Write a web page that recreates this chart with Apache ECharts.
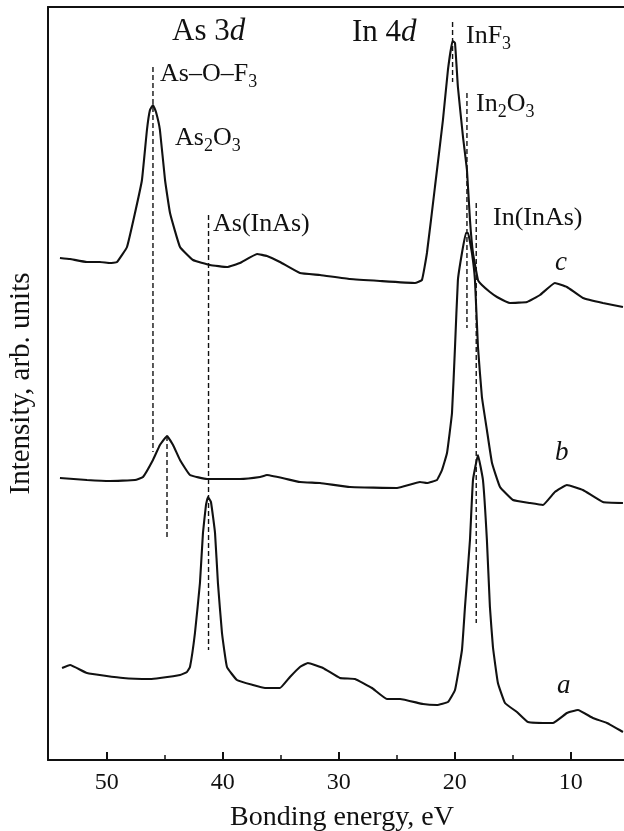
<!DOCTYPE html>
<html>
<head>
<meta charset="utf-8">
<title>As 3d / In 4d spectra</title>
<script src="https://cdn.jsdelivr.net/npm/echarts@6.0.0/dist/echarts.min.js"></script>
<style>
  html, body { margin: 0; padding: 0; background: #fff; }
  #chart { width: 624px; height: 831px; }
</style>
</head>
<body>
<div id="chart"></div>
<script>
// spectra: [bonding energy, eV ; intensity, arb. units]
const spectrumC = [
  [54.03, 502], [53.16, 501], [51.70, 498], [50.58, 498], [49.72, 497], [49.11, 498],
  [48.25, 513], [47.56, 547], [46.96, 580], [46.53, 630], [46.27, 650], [46.01, 655],
  [45.75, 648], [45.41, 630], [44.97, 580], [44.54, 547], [43.68, 513], [42.56, 500],
  [41.09, 495], [39.63, 493], [38.51, 497], [37.04, 506], [36.18, 504], [35.06, 498],
  [33.34, 487], [31.61, 485], [29.03, 481], [26.44, 479], [23.42, 477], [22.82, 480],
  [22.39, 507], [21.70, 573], [21.01, 640], [20.58, 690], [20.18, 719], [19.97, 717],
  [19.72, 673], [19.28, 623], [18.94, 590], [18.68, 540], [18.42, 507], [17.99, 480],
  [17.65, 475], [16.96, 468], [16.35, 463], [15.23, 457], [13.76, 458], [12.64, 465],
  [11.36, 477], [10.32, 473], [8.94, 462], [7.22, 457], [5.49, 453]
];
const spectrumB = [
  [54.03, 282], [51.70, 280], [49.72, 279], [47.56, 280], [46.87, 283], [46.01, 300],
  [45.41, 315], [44.80, 324], [44.28, 315], [43.68, 300], [42.82, 285], [41.35, 281],
  [39.97, 281], [38.51, 281], [36.78, 283], [36.18, 285], [33.34, 278], [31.61, 277],
  [29.03, 273], [24.97, 272], [22.99, 278], [22.39, 277], [21.53, 280], [21.09, 290],
  [20.66, 307], [20.23, 347], [19.97, 413], [19.72, 480], [19.37, 507], [19.03, 527],
  [18.85, 527], [18.51, 507], [18.25, 480], [17.99, 413], [17.65, 363], [17.22, 330],
  [16.78, 297], [16.09, 273], [14.97, 260], [13.51, 257], [12.39, 255], [11.36, 268],
  [10.32, 275], [8.94, 270], [7.22, 258], [5.49, 257]
];
const spectrumA = [
  [53.85, 92], [53.16, 95], [51.70, 87], [48.59, 82], [46.27, 81], [45.41, 82],
  [43.68, 85], [43.08, 88], [42.82, 93], [42.39, 127], [41.96, 177], [41.70, 227],
  [41.44, 255], [41.27, 263], [41.01, 258], [40.66, 227], [40.41, 177], [40.06, 127],
  [39.63, 93], [38.77, 80], [37.39, 75], [36.35, 72], [35.06, 72], [34.20, 83],
  [33.34, 93], [32.65, 97], [31.35, 92], [29.89, 82], [28.59, 81], [27.13, 72],
  [25.84, 61], [24.71, 61], [22.73, 56], [21.53, 55], [20.58, 58], [19.97, 70],
  [19.37, 110], [19.11, 153], [18.68, 220], [18.42, 280], [17.99, 305], [17.56, 280],
  [17.22, 220], [16.96, 153], [16.70, 113], [16.27, 77], [15.66, 57], [14.63, 48],
  [13.68, 38], [11.53, 37], [10.32, 47], [9.37, 50], [8.08, 42], [6.87, 37], [5.49, 28]
];

// dashed reference lines: [energy, upper end, lower end]
const refLines = [
  [46.01, 693, 308],   // As-O-F3
  [44.80, 324, 223],   // As2O3
  [41.22, 545, 110],   // As(InAs)
  [20.18, 738, 678],   // InF3
  [18.94, 667, 432],   // In2O3
  [18.14, 557, 137]    // In(InAs)
];

const majorTicks = [10, 20, 30, 40, 50];
const minorTicks = [15, 25, 35, 45];
const energyRange = [5.4, 55.06];
const intensityRange = [0, 753];

const FONT = '"Liberation Serif", "DejaVu Serif", serif';
const INK = '#111';

const chart = echarts.init(document.getElementById('chart'));

// label with subscript pieces
const subLabel = (x, y, parts) => ({
  type: 'text',
  x: x,
  y: y,
  style: {
    text: parts.map((p, i) => (i % 2 ? '{s|' + p + '}' : '{n|' + p + '}')).join(''),
    align: 'left',
    verticalAlign: 'middle',
    fill: INK,
    rich: {
      n: { fontFamily: FONT, fontSize: 26, lineHeight: 34, fill: INK },
      s: { fontFamily: FONT, fontSize: 18, lineHeight: 18, verticalAlign: 'bottom', fill: INK }
    }
  }
});

const italicLabel = (x, y, txt) => ({
  type: 'text',
  x: x,
  y: y,
  style: {
    text: txt,
    fontFamily: FONT,
    fontSize: 27,
    fontStyle: 'italic',
    align: 'left',
    verticalAlign: 'middle',
    fill: INK
  }
});

const shellLabel = (x, y, main, orbital) => ({
  type: 'text',
  x: x,
  y: y,
  style: {
    text: '{n|' + main + '}{i|' + orbital + '}',
    align: 'left',
    verticalAlign: 'middle',
    fill: INK,
    rich: {
      n: { fontFamily: FONT, fontSize: 31, fill: INK },
      i: { fontFamily: FONT, fontSize: 31, fontStyle: 'italic', fill: INK }
    }
  }
});

const spectrumSeries = [spectrumA, spectrumB, spectrumC].map(d => ({
  type: 'line',
  data: d,
  symbol: 'none',
  smooth: 0.1,
  silent: true,
  lineStyle: { color: INK, width: 2.1 }
}));

const refSeries = refLines.map(r => ({
  type: 'line',
  data: [[r[0], r[1]], [r[0], r[2]]],
  symbol: 'none',
  silent: true,
  lineStyle: { color: INK, width: 1.4, type: [5, 3] }
}));

const option = {
  animation: false,
  backgroundColor: '#fff',
  grid: { left: 48, right: 0, top: 7, bottom: 71, outerBoundsMode: 'none', containLabel: false },
  xAxis: [
    {
      type: 'value',
      position: 'bottom',
      inverse: true,
      min: energyRange[0],
      max: energyRange[1],
      name: 'Bonding energy, eV',
      nameLocation: 'middle',
      nameGap: 44,
      nameTextStyle: { fontFamily: FONT, fontSize: 28, color: INK, padding: [0, 0, 0, 12] },
      axisLine: { onZero: false, lineStyle: { color: INK, width: 2 } },
      axisTick: { inside: true, length: 8, customValues: majorTicks, lineStyle: { color: INK, width: 2 } },
      axisLabel: { customValues: majorTicks, margin: 11, fontFamily: FONT, fontSize: 24, color: INK },
      splitLine: { show: false }
    },
    {
      type: 'value',
      position: 'bottom',
      inverse: true,
      min: energyRange[0],
      max: energyRange[1],
      axisLine: { show: false },
      axisTick: { inside: true, length: 5, customValues: minorTicks, lineStyle: { color: INK, width: 1.5 } },
      axisLabel: { show: false },
      splitLine: { show: false }
    },
    {
      type: 'value',
      position: 'top',
      inverse: true,
      min: energyRange[0],
      max: energyRange[1],
      axisLine: { onZero: false, lineStyle: { color: INK, width: 2 } },
      axisTick: { show: false },
      axisLabel: { show: false },
      splitLine: { show: false }
    }
  ],
  yAxis: {
    type: 'value',
    min: intensityRange[0],
    max: intensityRange[1],
    name: 'Intensity, arb. units',
    nameLocation: 'middle',
    nameRotate: 90,
    nameGap: 12,
    nameTextStyle: { fontFamily: FONT, fontSize: 29, color: INK },
    axisLine: { show: true, onZero: false, lineStyle: { color: INK, width: 2 } },
    axisTick: { show: false },
    axisLabel: { show: false },
    splitLine: { show: false }
  },
  series: spectrumSeries.concat(refSeries),
  graphic: [
    shellLabel(172, 32, 'As 3', 'd'),
    shellLabel(352, 33, 'In 4', 'd'),
    subLabel(160, 74, ['As–O–F', '3']),
    subLabel(175, 138, ['As', '2', 'O', '3']),
    subLabel(213, 224, ['As(InAs)']),
    subLabel(466, 36, ['InF', '3']),
    subLabel(476, 104, ['In', '2', 'O', '3']),
    subLabel(493, 218, ['In(InAs)']),
    italicLabel(555, 263, 'c'),
    italicLabel(555, 453, 'b'),
    italicLabel(557, 686, 'a')
  ]
};

chart.setOption(option);
</script>
</body>
</html>
